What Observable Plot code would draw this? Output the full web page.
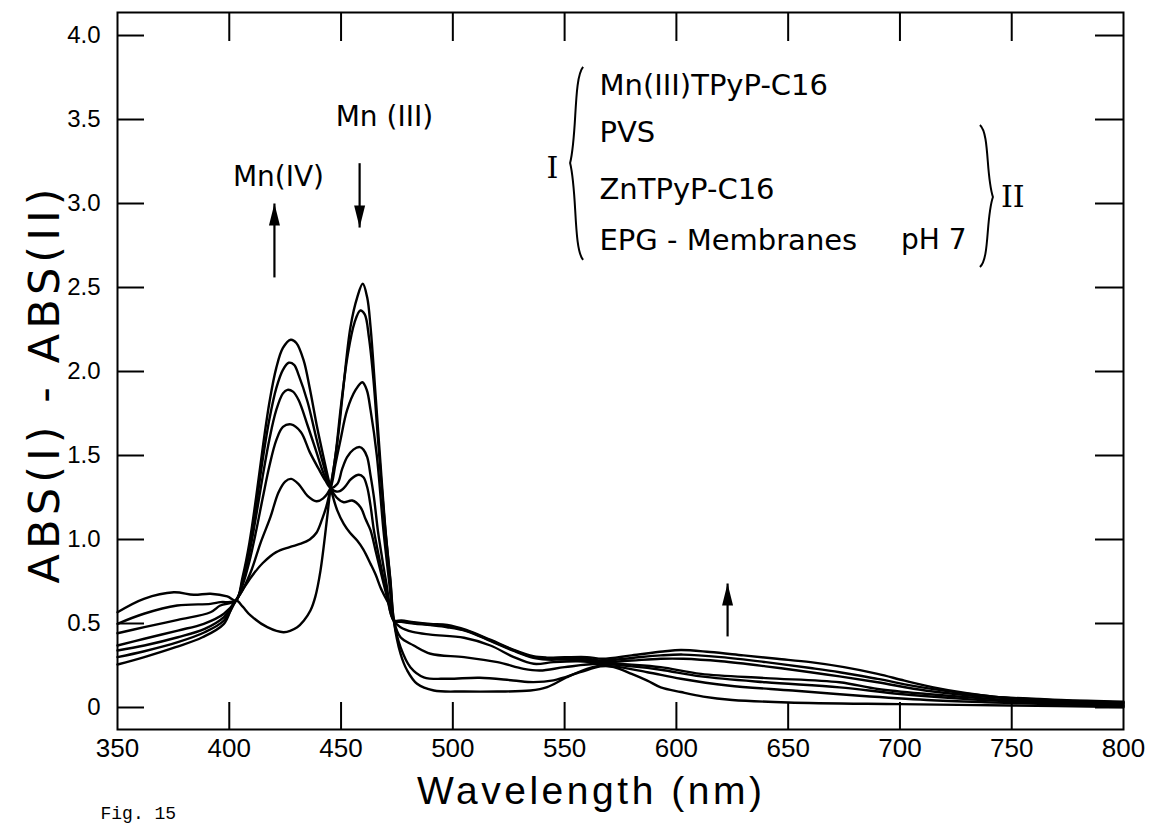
<!DOCTYPE html>
<html><head><meta charset="utf-8">
<script src="https://cdn.jsdelivr.net/npm/d3@7"></script>
<script src="https://cdn.jsdelivr.net/npm/@observablehq/plot@0.6"></script>
<style>
html,body{margin:0;padding:0;background:#fff;}
#chart{width:1152px;height:830px;overflow:hidden;position:relative}
</style></head><body><div id="chart"></div>
<script>
// ---------- data ----------
const xTicks = [350,400,450,500,550,600,650,700,750,800];
const yTicks = [0,0.5,1,1.5,2,2.5,3,3.5,4];
const yTickLabels = ["0","0.5","1.0","1.5","2.0","2.5","3.0","3.5","4.0"];
const seriesNames = ["A","B","C","D","E","F","G"];

const curveA = [[350,0.256],[362,0.30],[376,0.359],[388,0.418],[397.6,0.498],[403,0.637],[406,0.60],[409.5,0.548],[417,0.478],[424.4,0.448],[430.4,0.478],[433.4,0.518],[436.3,0.577],[438.5,0.66],[440.8,0.815],[443.8,1.133],[445.3,1.308],[447,1.45],[449,1.65],[451,1.9],[454.2,2.264],[457.2,2.44],[459.7,2.522],[461.7,2.44],[463.2,2.264],[465.4,1.867],[466.9,1.589],[469.9,1.054],[472.1,0.756],[473.6,0.518],[476.6,0.32],[479.6,0.22],[484,0.141],[491.5,0.101],[505,0.095],[520,0.095],[534.7,0.101],[542.2,0.121],[551,0.18],[560,0.23],[567,0.25],[572,0.24],[580,0.2],[587,0.16],[593,0.12],[602,0.092],[612,0.065],[625,0.045],[650,0.03],[700,0.02],[750,0.012],[800,0.002]];
const curveB = [[350,0.30],[362,0.335],[377,0.389],[389,0.448],[397.6,0.518],[403,0.637],[406,0.70],[410,0.78],[415,0.86],[421,0.925],[427,0.955],[432,0.975],[436,1.0],[439,1.04],[441.5,1.12],[443.5,1.2],[445.3,1.308],[447.5,1.5],[450,1.8],[453,2.1],[456,2.29],[458.6,2.363],[460.6,2.34],[462.5,2.2],[464.5,1.95],[466.5,1.6],[469.5,1.1],[472,0.76],[473.6,0.518],[476.6,0.359],[481,0.24],[487,0.18],[497.5,0.171],[512,0.177],[527,0.161],[536,0.151],[545,0.161],[557,0.21],[566,0.245],[572,0.245],[587,0.21],[602,0.171],[623,0.131],[652,0.101],[682,0.07],[712,0.045],[742,0.03],[772,0.018],[800,0.008]];
const curveC = [[350,0.339],[362,0.369],[377,0.418],[389,0.468],[397.6,0.538],[403,0.637],[406,0.70],[410,0.82],[414,0.98],[418.4,1.133],[422,1.28],[425,1.345],[427.7,1.361],[431,1.33],[435,1.26],[439,1.228],[442,1.245],[445.3,1.308],[447.5,1.45],[449.7,1.59],[452.7,1.77],[456.5,1.89],[459.5,1.936],[461.5,1.89],[463.2,1.77],[466,1.5],[469,1.05],[471.5,0.75],[473.6,0.518],[476.6,0.418],[482.5,0.369],[490,0.32],[505,0.30],[520,0.27],[531.7,0.23],[539,0.22],[550,0.24],[565,0.26],[580,0.245],[593,0.225],[611,0.185],[640,0.15],[673,0.12],[700,0.08],[730,0.05],[760,0.03],[800,0.012]];
const curveD = [[350,0.369],[362,0.409],[377,0.458],[388.6,0.498],[397.6,0.558],[403,0.637],[406,0.73],[409,0.87],[412,1.05],[415,1.25],[418,1.44],[421,1.59],[424,1.67],[427.6,1.685],[432,1.64],[436,1.52],[440,1.42],[443,1.35],[445.3,1.308],[448.3,1.33],[450.5,1.42],[452.7,1.49],[455.5,1.535],[458.4,1.55],[460,1.535],[461.7,1.49],[463.2,1.38],[464.7,1.252],[466.5,1.05],[467.6,0.954],[470,0.76],[473.6,0.518],[476.6,0.478],[482,0.45],[490,0.434],[505,0.415],[516.8,0.369],[527.3,0.30],[536.2,0.26],[545,0.27],[556,0.275],[566,0.265],[580,0.255],[593,0.24],[611,0.2],[640,0.175],[673,0.15],[690,0.11],[712,0.08],[742,0.05],[772,0.03],[800,0.02]];
const curveE = [[350,0.442],[362,0.478],[377,0.522],[391.6,0.567],[396,0.607],[403,0.637],[406,0.75],[409,0.92],[412,1.14],[415,1.38],[418,1.6],[421,1.77],[424,1.87],[426,1.891],[428.5,1.88],[431,1.83],[435,1.68],[439,1.52],[442,1.4],[445.3,1.308],[447,1.29],[449,1.286],[451.5,1.31],[454.5,1.36],[458,1.385],[460,1.37],[461.7,1.311],[463.2,1.2],[464.7,1.054],[467.6,0.855],[470.5,0.68],[473.6,0.518],[477,0.51],[482.5,0.5],[490,0.49],[497.5,0.478],[506,0.455],[517,0.395],[527,0.338],[536,0.295],[542,0.285],[550,0.285],[560,0.28],[567,0.27],[580,0.28],[593,0.29],[603,0.29],[620,0.275],[640,0.245],[660,0.21],[673,0.185],[690,0.15],[712,0.1],[742,0.06],[772,0.04],[800,0.025]];
const curveF = [[350,0.498],[361.8,0.558],[376.7,0.607],[391.6,0.617],[396,0.627],[403,0.637],[406,0.76],[409,0.95],[412,1.2],[415,1.48],[418,1.72],[421,1.9],[424,2.01],[426.6,2.052],[429,2.04],[431,1.98],[435,1.82],[439,1.6],[442,1.45],[445.3,1.308],[448,1.25],[451.2,1.222],[455,1.232],[458.7,1.192],[461,1.12],[463.2,1.054],[465.5,0.93],[467.6,0.815],[470.5,0.66],[473.6,0.518],[477,0.512],[482.5,0.503],[490,0.493],[497.5,0.485],[506,0.458],[517,0.398],[527,0.342],[536,0.3],[542,0.292],[550,0.294],[560,0.29],[567,0.28],[580,0.295],[593,0.31],[603,0.315],[620,0.3],[640,0.27],[660,0.235],[673,0.21],[690,0.17],[712,0.115],[742,0.065],[772,0.045],[800,0.035]];
const curveG = [[350,0.567],[361.8,0.647],[375.2,0.686],[384.1,0.671],[391.6,0.677],[399.1,0.661],[403,0.637],[406,0.78],[409,0.98],[412,1.25],[415,1.55],[418,1.82],[421,2.02],[424,2.14],[427.5,2.189],[430,2.17],[433.3,2.065],[436,1.9],[439.3,1.668],[442,1.5],[445.3,1.308],[448.3,1.173],[451.2,1.093],[454,1.04],[457.2,0.994],[460,0.94],[463.2,0.855],[465.5,0.79],[467.6,0.716],[470,0.65],[472.1,0.597],[473.6,0.518],[477,0.518],[482.5,0.508],[490,0.498],[497.5,0.492],[506,0.462],[517,0.402],[527,0.345],[536,0.305],[542,0.297],[550,0.299],[560,0.3],[567,0.29],[580,0.31],[594,0.333],[602,0.342],[615,0.33],[630,0.31],[645,0.29],[660,0.27],[675,0.24],[690,0.2],[702,0.16],[715,0.12],[730,0.085],[742,0.065],[772,0.042],[800,0.03]];

const legendLabels = ["Mn(III)TPyP-C16","PVS","ZnTPyP-C16","EPG - Membranes"];
const legendY = [3.70, 3.42, 3.08, 2.78];
const legendX = 565.6;
const centerNotes = [
  {text:"Mn(IV)", x:422.0, y:3.155},
  {text:"Mn (III)", x:469.4, y:3.512}
];
const startNotes = [{text:"pH 7", x:700.5, y:2.78}];
const romanNotes = [{text:"I", x:544.6, y:3.208},{text:"II", x:750.5, y:3.036}];
const arrows = [
  {x:420.2, tail:2.56, tip:3.00, dir:0},
  {x:458.3, tail:3.24, tip:2.857, dir:180},
  {x:622.9, tail:0.423, tip:0.738, dir:0}
];
const braces = [
  {x:558.5, top:3.81, mid:3.238, bottom:2.661, side:-1},
  {x:736.0, top:3.464, mid:3.036, bottom:2.619, side:1}
];

// ---------- layout ----------
const W = 1152, H = 830, ML = 117, MR = 29, MT = 12, MB = 101;
const fw = W - ML - MR, fh = H - MT - MB;
const SANS = "'Liberation Sans', Arial, sans-serif";
const LETTER = "'DejaVu Sans', 'Liberation Sans', sans-serif";
const SERIF = "'DejaVu Serif', 'Liberation Serif', serif";

const rows = [];
[curveA,curveB,curveC,curveD,curveE,curveF,curveG].forEach((c,i) => {
  for (const [wl,v] of c) rows.push({s: seriesNames[i], wl, v});
});

const headSymbol = {draw(ctx){ ctx.moveTo(0,0); ctx.lineTo(5.5,22); ctx.lineTo(-5.5,22); ctx.closePath(); }};

function braceMark(index, scales) {
  const g = d3.create("svg:g").attr("fill","none").attr("stroke","black").attr("stroke-width",2);
  for (const b of braces) {
    const x = scales.x(b.x), y1 = scales.y(b.top), ym = scales.y(b.mid), y2 = scales.y(b.bottom);
    const w = 13 * b.side, h1 = ym - y1, h2 = y2 - ym;
    const p = `M${x},${y1} C${x+w*0.75},${y1+h1*0.12} ${x+w*0.45},${ym-h1*0.3} ${x+w},${ym}`
            + ` C${x+w*0.45},${ym+h2*0.3} ${x+w*0.75},${y2-h2*0.12} ${x},${y2}`;
    g.append("path").attr("d", p);
  }
  return g.node();
}

const chart = Plot.plot({
  width: W, height: H,
  marginLeft: ML, marginRight: MR, marginTop: MT, marginBottom: MB,
  style: {background: "#fff", color: "#000", fontFamily: SANS, overflow: "visible"},
  x: {domain: [350, 800]},
  y: {domain: [-0.131, 4.137]},
  marks: [
    Plot.frame({stroke: "black", strokeWidth: 2}),
    // inward ticks
    Plot.tickY(yTicks, {y: d => d, insetRight: fw - 27, stroke: "black", strokeWidth: 2}),
    Plot.tickY(yTicks, {y: d => d, insetLeft: fw - 28, stroke: "black", strokeWidth: 2}),
    Plot.tickX(xTicks.slice(1,-1), {x: d => d, insetTop: fh - 27, stroke: "black", strokeWidth: 2}),
    Plot.tickX(xTicks.slice(1,-1), {x: d => d, insetBottom: fh - 29, stroke: "black", strokeWidth: 2}),
    Plot.axisX(xTicks, {tickSize: 0, tickPadding: 9, fontSize: 26, label: null, fontFamily: SANS}),
    Plot.axisY(yTicks, {tickSize: 0, tickPadding: 17, fontSize: 24, label: null, fontFamily: SANS,
      tickFormat: d => yTickLabels[yTicks.indexOf(d)]}),
    // spectra
    Plot.line(rows, {x: "wl", y: "v", z: "s", curve: "catmull-rom", stroke: "black", strokeWidth: 2.4}),
    // arrows
    Plot.link(arrows, {x1: "x", x2: "x", y1: "tail", y2: "tip", stroke: "black", strokeWidth: 2.2}),
    Plot.dot(arrows, {x: "x", y: "tip", symbol: headSymbol, rotate: "dir", fill: "black", stroke: "none"}),
    // annotations
    Plot.text(centerNotes, {x: "x", y: "y", text: "text", textAnchor: "middle", fontSize: 28, fontFamily: LETTER}),
    Plot.text(startNotes, {x: "x", y: "y", text: "text", textAnchor: "start", fontSize: 28, fontFamily: LETTER}),
    Plot.text(romanNotes, {x: "x", y: "y", text: "text", fontSize: 30, fontFamily: SERIF}),
    Plot.text(legendLabels, {x: () => legendX, y: (d,i) => legendY[i], text: d => d, textAnchor: "start", fontSize: 29, fontFamily: LETTER}),
    braceMark,
    // axis titles
    Plot.text(["ABS(I) - ABS(II)"], {frameAnchor: "left", textAnchor: "middle", lineAnchor: "middle", dx: -72, dy: 15, rotate: -90, fontSize: 43, fontFamily: LETTER}),
    Plot.text(["Wavelength (nm)"], {frameAnchor: "bottom", textAnchor: "middle", lineAnchor: "middle", dx: -31, dy: 62, fontSize: 39, fontFamily: SANS}),
    Plot.text(["Fig. 15"], {frameAnchor: "bottom-left", textAnchor: "start", lineAnchor: "middle", dx: -17, dy: 84, fontSize: 18, fontFamily: "'Liberation Mono', 'DejaVu Sans Mono', monospace"})
  ]
});
// stretch the axis titles to the reference's extent
d3.select(chart).selectAll("text").each(function() {
  const t = this.textContent;
  if (t === "ABS(I) - ABS(II)") d3.select(this).attr("textLength", 395).attr("lengthAdjust", "spacing");
  if (t === "Wavelength (nm)") d3.select(this).attr("textLength", 345).attr("lengthAdjust", "spacing");
});
document.getElementById("chart").append(chart);
</script>
</body></html>
